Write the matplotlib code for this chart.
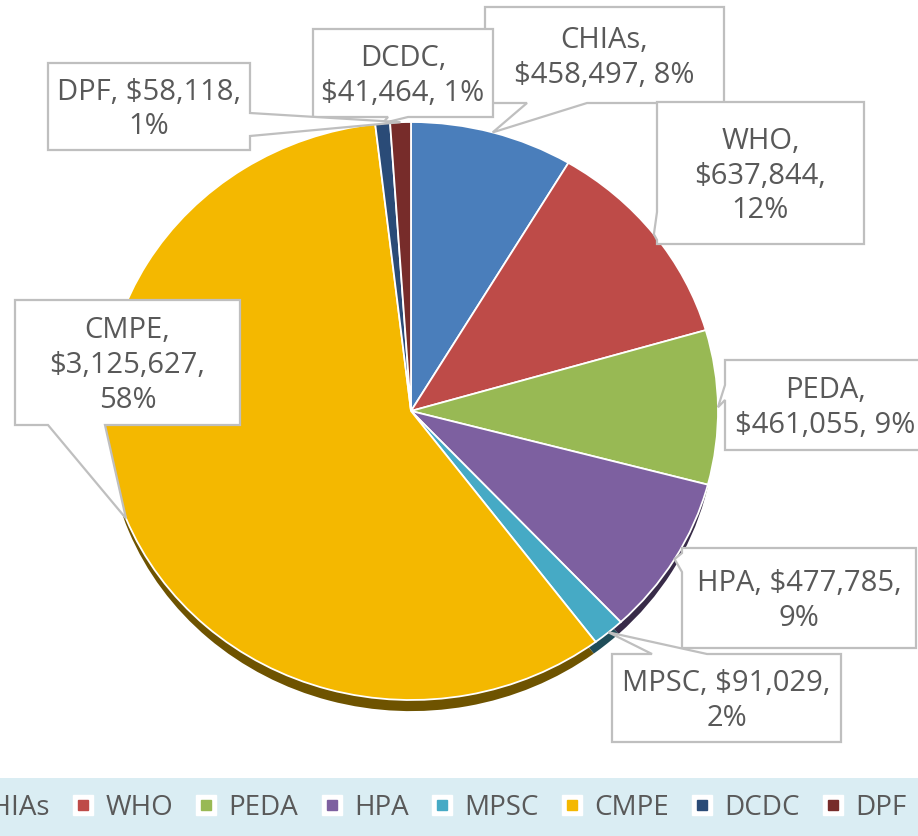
import matplotlib
matplotlib.use("Agg")
import matplotlib.pyplot as plt
import numpy as np
from matplotlib.patches import Polygon, Rectangle
from matplotlib.lines import Line2D
from matplotlib.colors import to_rgb

plt.rcParams['font.family'] = ['Open Sans', 'DejaVu Sans']

# data
NAMES = ['CHIAs', 'WHO', 'PEDA', 'HPA', 'MPSC', 'CMPE', 'DCDC', 'DPF']
VALUES = [458497, 637844, 461055, 477785, 91029, 3125627, 41464, 58118]
PCTS = ['8%', '12%', '9%', '9%', '2%', '58%', '1%', '1%']
COLORS = ['#4a7ebb', '#be4b48', '#98b954', '#7d60a0', '#46aac5', '#f4b800', '#2a4b77', '#772c2a']

# how each label wraps, like in the excel chart
LABEL_FMT = ['{n},\n{v}, {p}', '{n},\n{v},\n{p}', '{n},\n{v}, {p}', '{n}, {v},\n{p}',
             '{n}, {v},\n{p}', '{n},\n{v},\n{p}', '{n},\n{v}, {p}', '{n}, {v},\n{p}']

# callout boxes in pixels (x0, y0, x1, y1), side of the pointer and its base
BOXES = [(485, 7, 724, 103, 'bottom', 527, 587),
         (657, 102, 864, 244, 'left', 212, 240),
         (725, 360, 925, 450, 'left', 385, 400),
         (682, 548, 916, 648, 'left', 553, 572),
         (612, 654, 841, 742, 'top', 652, 707),
         (15, 300, 240, 425, 'bottom', 48, 105),
         (313, 29, 493, 117, 'bottom', 388, 408),
         (48, 63, 250, 150, 'right', 113, 136)]

W, H = 918, 836
CX, CY, RX, RY = 411, 411, 307, 289
SHADOW = 14

fig = plt.figure(figsize=(W / 100, H / 100), dpi=100)

# pie axes, stretched a bit wider than tall like the source
axp = fig.add_axes([(CX - RX) / W, (H - CY - RY) / H, 2 * RX / W, 2 * RY / H])
dark = [tuple(c * 0.45 for c in to_rgb(col)) for col in COLORS]
axp.pie(VALUES, colors=dark, startangle=90, counterclock=False, radius=0.99,
        center=(0, -SHADOW / RY), wedgeprops=dict(edgecolor='none'))
axp.pie(VALUES, colors=COLORS, startangle=90, counterclock=False, radius=1,
        wedgeprops=dict(edgecolor='white', linewidth=1.3))
axp.set_aspect('auto')
axp.set_xlim(-1, 1)
axp.set_ylim(-1, 1)
axp.axis('off')

# overlay in pixel coords for the callouts
ax = fig.add_axes([0, 0, 1, 1], zorder=5)
ax.set_xlim(0, W)
ax.set_ylim(H, 0)
ax.axis('off')

frac = np.array(VALUES) / np.sum(VALUES)
mids = (np.cumsum(frac) - frac / 2) * 2 * np.pi  # clockwise from top

for i, name in enumerate(NAMES):
    x0, y0, x1, y1, side, b0, b1 = BOXES[i]
    apex = (CX + RX * np.sin(mids[i]), CY - RY * np.cos(mids[i]))
    if side == 'top':
        pts = [(x0, y0), (b0, y0), apex, (b1, y0), (x1, y0), (x1, y1), (x0, y1)]
    elif side == 'right':
        pts = [(x0, y0), (x1, y0), (x1, b0), apex, (x1, b1), (x1, y1), (x0, y1)]
    elif side == 'bottom':
        pts = [(x0, y0), (x1, y0), (x1, y1), (b1, y1), apex, (b0, y1), (x0, y1)]
    else:
        pts = [(x0, y0), (x1, y0), (x1, y1), (x0, y1), (x0, b1), apex, (x0, b0)]
    ax.add_patch(Polygon(pts, closed=True, facecolor='white', edgecolor='#bfbfbf',
                         linewidth=1.6, joinstyle='miter', zorder=2 + i * 0.01))
    txt = LABEL_FMT[i].format(n=name, v='${:,}'.format(VALUES[i]), p=PCTS[i])
    ax.text((x0 + x1) / 2, (y0 + y1) / 2 + 3, txt, ha='center', va='center',
            multialignment='center', fontsize=21, color='#595959',
            linespacing=1.27, zorder=3)

# legend band at the bottom
fig.add_artist(Rectangle((0, 0), 1, (H - 778) / H, transform=fig.transFigure,
                         facecolor='#daedf3', edgecolor='none', zorder=0))
handles = [(Line2D([], [], marker='s', ls='', ms=15, color='white'),
            Line2D([], [], marker='s', ls='', ms=7.5, color=c)) for c in COLORS]
fig.legend(handles, NAMES, ncol=8, loc='center left', bbox_to_anchor=(-60 / W, 1 - 808 / H),
           frameon=False, fontsize=20, labelcolor='#595959', handlelength=0.8,
           handletextpad=0.4, columnspacing=0.8, borderpad=0, borderaxespad=0)

fig.savefig('out.png', dpi=100)
